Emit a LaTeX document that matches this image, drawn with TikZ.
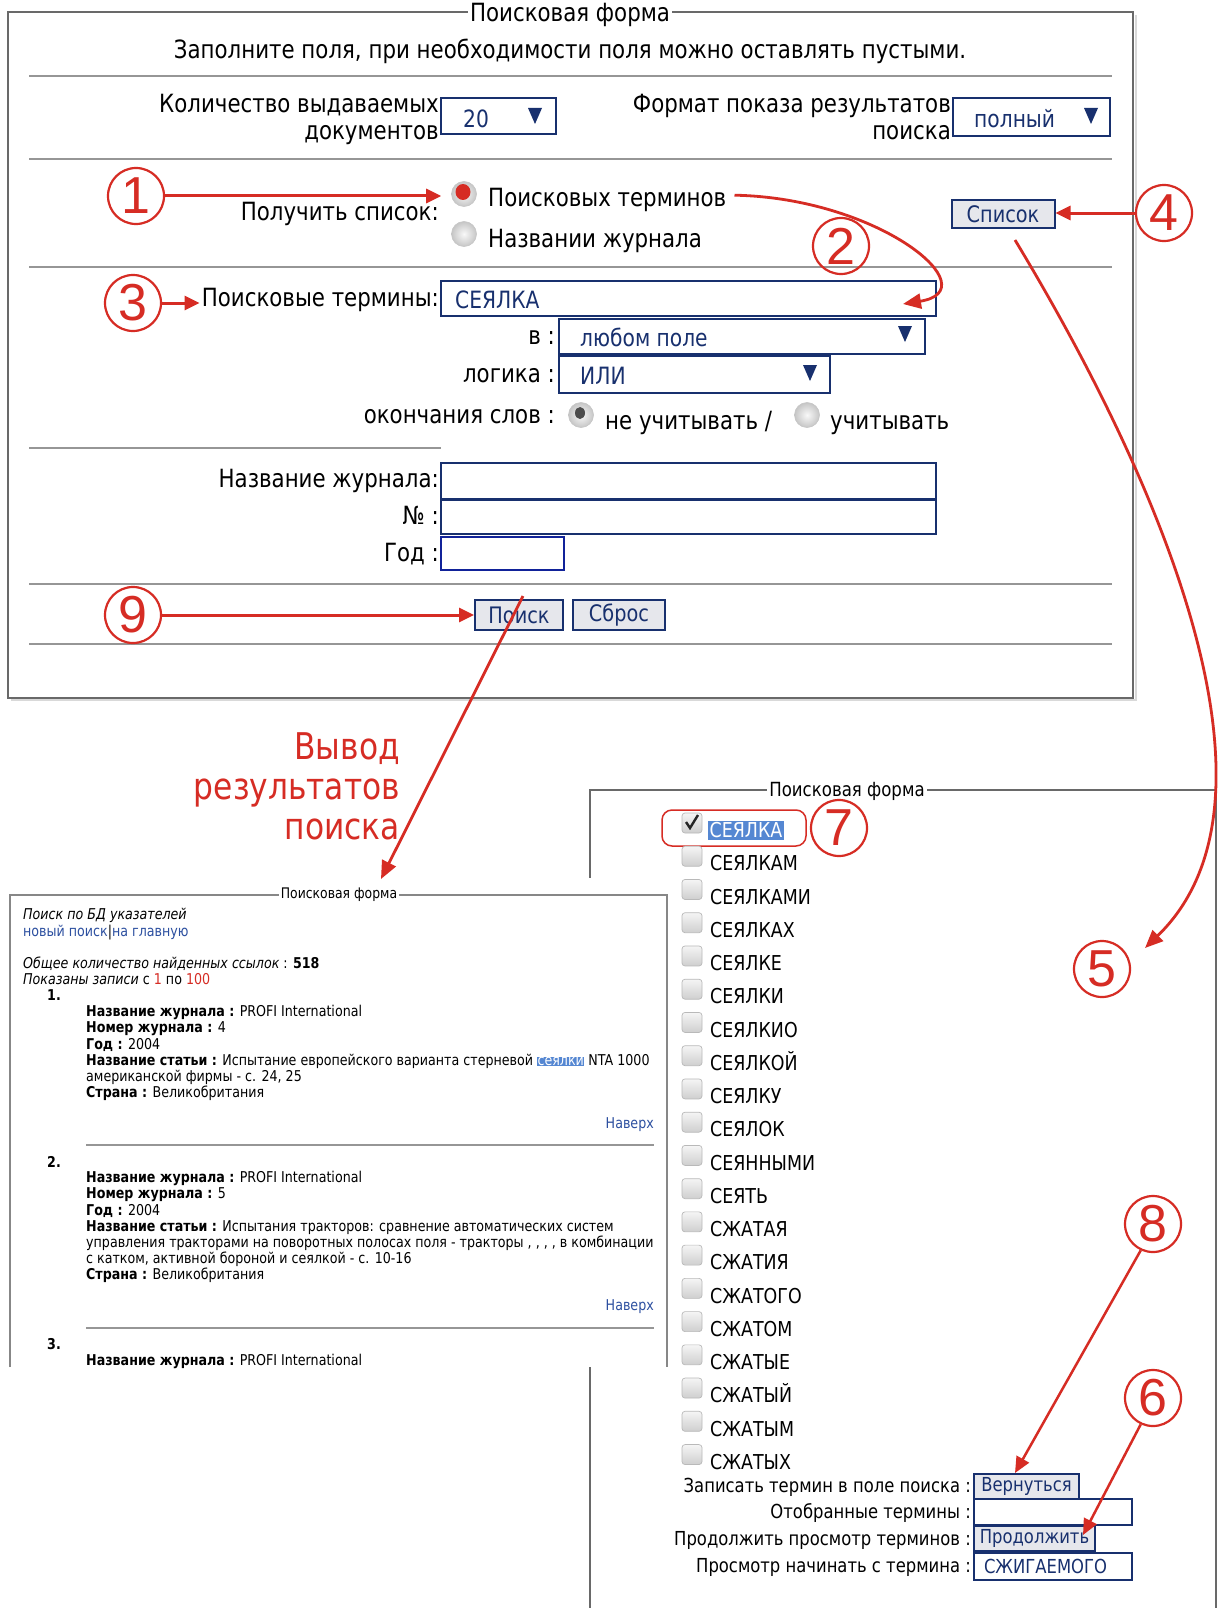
\documentclass[tikz,border=0pt]{standalone}
\usepackage{fontspec}
\setmainfont{DejaVu Sans}[FakeStretch=0.85]
\newfontfamily\numfont{Liberation Sans}
\usetikzlibrary{arrows.meta}
\definecolor{rd}{RGB}{214,44,36}
\definecolor{navy}{RGB}{24,48,110}
\definecolor{frm}{RGB}{105,105,105}
\definecolor{sepc}{RGB}{150,150,150}
\definecolor{lnk}{RGB}{45,80,160}
\definecolor{hl}{RGB}{85,135,210}
\definecolor{btn}{RGB}{230,231,236}
\newcommand{\fs}[2]{\fontsize{#1}{#2}\selectfont}
\tikzset{
  frame/.style={draw=frm, line width=2.8pt},
  sepline/.style={draw=sepc, line width=1.6pt},
  inbox/.style={draw=navy, line width=2.6pt, fill=white},
  btnbox/.style={draw=navy, line width=2pt, fill=btn},
  numc/.style={circle, draw=rd, line width=2.2pt, minimum size=56pt, inner sep=0pt, text=rd, font=\numfont\fs{52}{52}},
  bigarr/.style={draw=rd, line width=3pt, -{Triangle[length=15pt,width=14pt]}},
  thinarr/.style={draw=rd, line width=2.8pt, -{Triangle[length=18pt,width=15pt]}},
  midarr/.style={draw=rd, line width=2.5pt, -{Triangle[length=16pt,width=14pt]}},
  txt/.style={inner sep=0pt, font=\fs{25.1}{30}, yshift=-5pt},
  intxt/.style={inner sep=0pt, font=\fs{23.8}{28}, text=navy, yshift=-5pt},
  radio/.style={circle, minimum size=25pt, inner sep=0pt, draw=gray!45, line width=0.6pt, inner color=gray!5, outer color=gray!45},
  chk/.style={rounded corners=3pt, minimum size=20pt, inner sep=0pt, draw=gray!55, line width=0.7pt, top color=gray!8, bottom color=gray!38},
  small/.style={inner sep=0pt, anchor=mid west, font=\fs{14.9}{18}, yshift=-3pt},
  lst/.style={inner sep=0pt, anchor=mid west, font=\fs{20.5}{24}, yshift=-6pt},
  lbl/.style={inner sep=0pt, anchor=mid east, font=\fs{19.3}{23}, yshift=-3pt},
  btntxt/.style={text=navy, font=\fs{22.7}{26}},
  ftitle/.style={fill=white, inner xsep=2pt, inner ysep=1pt},
}
\begin{document}
\begin{tikzpicture}[x=1pt,y=-1pt]
\useasboundingbox (0,0) rectangle (1219,1608);
\fill[white] (0,0) rectangle (1219,1608);

% ================= main search form =================
\draw[gray!30, line width=2pt] (11,700) -- (1136,700) -- (1136,15);
\draw[frame] (8,12) rectangle (1133,698);
\node[ftitle, font=\fs{25.1}{30}] (t1) at (570,15) {Поисковая форма};
\node[txt, yshift=3pt] (intro) at (570,49) {Заполните поля, при необходимости поля можно оставлять пустыми.};
\draw[sepline] (29,76) -- (1112,76);

\node[txt, anchor=mid east] (kol1) at (439,105) {Количество выдаваемых};
\node[txt, anchor=mid east] (kol2) at (439,132) {документов};
\draw[inbox] (441,98) rectangle (556,134);
\node[intxt, anchor=mid west] (v20) at (463,120) {20};
\fill[navy] (528,108) -- (542,108) -- (535,124) -- cycle;

\node[txt, anchor=mid east] (fmt1) at (951,105) {Формат показа результатов};
\node[txt, anchor=mid east] (fmt2) at (951,132) {поиска};
\draw[inbox] (953,98) rectangle (1110,136);
\node[intxt, anchor=mid west] (vfull) at (974,120) {полный};
\fill[navy] (1084,108) -- (1098,108) -- (1091,124) -- cycle;
\draw[sepline] (29,159) -- (1112,159);

\node[txt, anchor=mid east] (getl) at (439,213) {Получить список:};
\node[radio] (ra1) at (464,194) {};
\fill[rd] (463,192) ellipse (7.5pt and 8pt);
\node[txt, anchor=mid west] (term1) at (488,199) {Поисковых терминов};
\node[radio] (ra2) at (464,234) {};
\node[txt, anchor=mid west] (term2) at (488,240) {Названии журнала};
\node[btnbox, minimum width=103pt, minimum height=28pt, inner sep=0pt, btntxt] (spisok) at (1003,214) {Список};
\draw[sepline] (29,267) -- (1112,267);

\node[txt, anchor=mid east] (lab3) at (439,299) {Поисковые термины:};
\draw[inbox] (441,281) rectangle (936,316);
\node[intxt, anchor=mid west] (seyal) at (455,301) {СЕЯЛКА};
\node[txt, anchor=mid east] (vlab) at (555,337) {в :};
\draw[inbox] (559,319) rectangle (925,354);
\node[intxt, anchor=mid west] (anyf) at (580,339) {любом поле};
\fill[navy] (898,326) -- (912,326) -- (905,342) -- cycle;
\node[txt, anchor=mid east] (loglab) at (555,375) {логика :};
\draw[inbox] (559,356) rectangle (830,393);
\node[intxt, anchor=mid west] (ili) at (580,377) {ИЛИ};
\fill[navy] (803,365) -- (817,365) -- (810,381) -- cycle;
\node[txt, anchor=mid east] (endlab) at (555,416) {окончания слов :};
\node[radio] (ra3) at (581,415) {};
\fill[black!70] (580,413) ellipse (5pt and 6pt);
\node[txt, anchor=mid west] (nouch) at (605,422) {не учитывать /};
\node[radio] (ra4) at (807,415) {};
\node[txt, anchor=mid west] (uch) at (830,422) {учитывать};
\draw[sepline] (29,448) -- (441,448);

\node[txt, anchor=mid east] (jlab) at (439,480) {Название журнала:};
\draw[inbox] (441,463) rectangle (936,499);
\node[txt, anchor=mid east] (nlab) at (439,517) {№ :};
\draw[inbox] (441,500) rectangle (936,534);
\node[txt, anchor=mid east] (ylab) at (439,554) {Год :};
\draw[draw=navy!70!blue, line width=2pt, fill=white] (441,537) rectangle (564,570);
\draw[sepline] (29,584) -- (1112,584);

\node[btnbox, minimum width=88pt, minimum height=30pt, inner sep=0pt, btntxt] (poisk) at (519,615) {Поиск};
\node[btnbox, minimum width=92pt, minimum height=30pt, inner sep=0pt, btntxt] (sbros) at (619,615) {Сброс};
\draw[sepline] (29,644) -- (1112,644);

% circled numbers of the main form
\node[numc] (n1) at (136,196) {1};
\node[numc] (n2) at (841,246) {2};
\node[numc] (n3) at (133,303) {3};
\node[numc] (n4) at (1164,213) {4};
\node[numc] (n9) at (133,615) {9};

\draw[bigarr] (n1.east) -- ([xshift=-10pt]ra1.west |- n1.east);
\draw[bigarr] (n3.east) -- ([xshift=-2pt]lab3.west |- n3.east);
\draw[bigarr] (n4.west) -- (spisok.east |- n4.west);
\draw[bigarr] (n9.east) -- (poisk.west |- n9.east);
\coordinate (c2end) at (903,304);
\draw[thinarr] ([xshift=8pt,yshift=5pt]term1.east) .. controls (880,198) and (990,290) .. (c2end);

% ================= right panel: list of terms =================
\draw[draw=frm, line width=2pt] (590,1608) -- (590,790) -- (1216,790) -- (1216,1608);
\node[ftitle, font=\fs{19.5}{23}] (t3) at (847,791) {Поисковая форма};

\node[chk] (cb0) at (692,823) {};
\draw[line width=2.4pt, black!85] (686,822) -- (690,828) -- (698,815);
\node[lst, fill=hl, text=white, inner sep=1.5pt] (w0) at (708,829) {СЕЯЛКА};
\draw[rd, line width=1.5pt, rounded corners=10pt] (662,810) rectangle (806,846);
\foreach \w [count=\i] in {СЕЯЛКАМ,СЕЯЛКАМИ,СЕЯЛКАХ,СЕЯЛКЕ,СЕЯЛКИ,СЕЯЛКИО,СЕЯЛКОЙ,СЕЯЛКУ,СЕЯЛОК,СЕЯННЫМИ,СЕЯТЬ,СЖАТАЯ,СЖАТИЯ,СЖАТОГО,СЖАТОМ,СЖАТЫЕ,СЖАТЫЙ,СЖАТЫМ,СЖАТЫХ}{
  \pgfmathsetmacro\yy{828+\i*33.24}
  \node[chk] (cb\i) at (692,\yy-5) {};
  \node[lst] (w\i) at (710,\yy+1) {\w};
}

\node[lbl] (l1) at (971,1487) {Записать термин в поле поиска :};
\node[btnbox, minimum width=105pt, minimum height=25pt, inner sep=0pt, anchor=west, text=navy, font=\fs{19.3}{23}] (vern) at (973,1486) {Вернуться};
\node[lbl] (l2) at (971,1513) {Отобранные термины :};
\node[draw=navy, line width=2pt, fill=white, minimum width=158pt, minimum height=26pt, anchor=west] (otb) at (973,1512) {};
\node[lbl] (l3) at (971,1540) {Продолжить просмотр терминов :};
\node[btnbox, minimum width=121pt, minimum height=25pt, inner sep=0pt, anchor=west, text=navy, font=\fs{19.3}{23}] (prod) at (973,1538) {Продолжить};
\node[lbl] (l4) at (971,1567) {Просмотр начинать с термина :};
\node[draw=navy, line width=2pt, fill=white, minimum width=158pt, minimum height=27pt, anchor=west, inner xsep=10pt, text=navy, font=\fs{19.3}{23}, text width=138pt] (start) at (973,1566) {СЖИГАЕМОГО};

\node[numc] (n5) at (1102,969) {5};
\node[numc] (n6) at (1153,1398) {6};
\node[numc] (n7) at (839,828) {7};
\node[numc] (n8) at (1153,1224) {8};

\coordinate (c8end) at (1015,1473);
\coordinate (c6end) at (1083,1535);
\draw[midarr] (n8.-115) -- (c8end);
\draw[midarr] (n6.-115) -- (c6end);

% ================= results panel =================
\fill[white] (10,878) rectangle (667,1367);
\draw[draw=frm!80, line width=1.6pt] (10,1367) -- (10,895) -- (667,895) -- (667,1367);
\node[ftitle, font=\fs{14.6}{17}] (t2) at (339,895) {Поисковая форма};

\node[small, font=\fs{14.9}{18}\itshape] (r1) at (23,914) {Поиск по БД указателей};
\node[small, text=lnk] (r2) at (23,931) {новый поиск\textcolor{black}{|}на главную};
\node[small] (r3) at (23,963) {\textit{Общее количество найденных ссылок} : \textbf{518}};
\node[small] (r4) at (23,979) {\textit{Показаны записи} с \textcolor{rd}{1} по \textcolor{rd}{100}};
\node[small] (r5) at (47,995) {\textbf{1.}};
\node[small] (r6) at (86,1011) {\textbf{Название журнала :} PROFI International};
\node[small] (r7) at (86,1027) {\textbf{Номер журнала :} 4};
\node[small] (r8) at (86,1044) {\textbf{Год :} 2004};
\node[small] (r9) at (86,1060) {\textbf{Название статьи :} Испытание европейского варианта стерневой {\setlength\fboxsep{0.5pt}\colorbox{hl}{\textcolor{white}{сеялки}}} NTA 1000};
\node[small] (r10) at (86,1076) {американской фирмы - с. 24, 25};
\node[small] (r11) at (86,1092) {\textbf{Страна :} Великобритания};
\node[small, anchor=mid east, text=lnk] (r12) at (654,1123) {Наверх};
\draw[sepline] (86,1145) -- (654,1145);
\node[small] (r13) at (47,1162) {\textbf{2.}};
\node[small] (r14) at (86,1177) {\textbf{Название журнала :} PROFI International};
\node[small] (r15) at (86,1193) {\textbf{Номер журнала :} 5};
\node[small] (r16) at (86,1210) {\textbf{Год :} 2004};
\node[small] (r17) at (86,1226) {\textbf{Название статьи :} Испытания тракторов: сравнение автоматических систем};
\node[small] (r18) at (86,1242) {управления тракторами на поворотных полосах поля - тракторы , , , , в комбинации};
\node[small] (r19) at (86,1258) {с катком, активной бороной и сеялкой - с. 10-16};
\node[small] (r20) at (86,1274) {\textbf{Страна :} Великобритания};
\node[small, anchor=mid east, text=lnk] (r21) at (654,1305) {Наверх};
\draw[sepline] (86,1328) -- (654,1328);
\node[small] (r22) at (47,1344) {\textbf{3.}};
\node[small] (r23) at (86,1360) {\textbf{Название журнала :} PROFI International};

% red caption
\node[inner sep=0pt, anchor=east, align=right, text=rd, font=\fs{36.8}{40}] (vyvod) at (400,786) {Вывод\\результатов\\поиска};

% long connectors
\coordinate (c5end) at (1145,948);
\draw[thinarr] ([xshift=12pt,yshift=-11pt]spisok.south) .. controls (1160,480) and (1298,800) .. (c5end);
\coordinate (cres) at (381,879);
\draw[thinarr] ([xshift=4pt,yshift=3pt]poisk.north) -- (cres);
\end{tikzpicture}
\end{document}
